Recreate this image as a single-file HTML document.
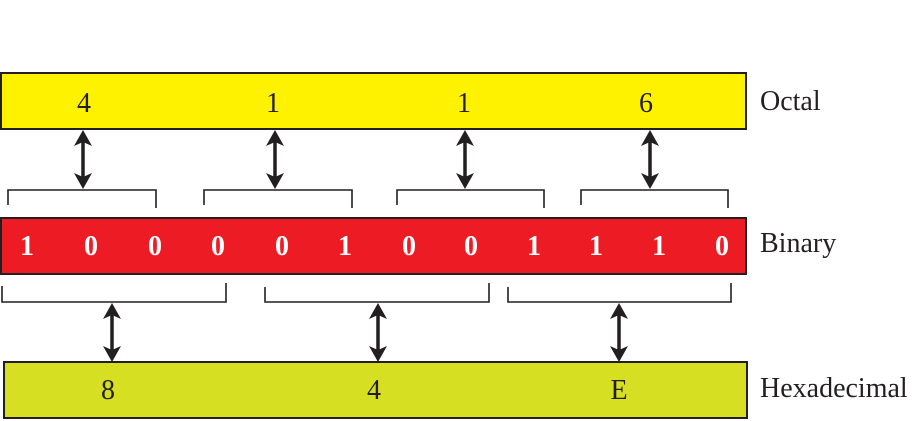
<!DOCTYPE html>
<html><head><meta charset="utf-8"><style>
html,body{margin:0;padding:0;background:#fff;}
svg{display:block;}
svg text{font-family:"Liberation Serif","Times New Roman",Times,"DejaVu Serif",serif;}
</style></head><body>
<svg width="920" height="421" viewBox="0 0 920 421" xmlns="http://www.w3.org/2000/svg">
<rect x="1" y="73" width="745" height="56" fill="#fff200" stroke="#231f20" stroke-width="2"/>
<rect x="1" y="218" width="745" height="56" fill="#ed1c24" stroke="#231f20" stroke-width="2"/>
<rect x="4" y="362" width="743" height="56" fill="#d7df23" stroke="#231f20" stroke-width="2"/>

<g font-size="28" fill="#231f20" text-anchor="middle">
<text x="84" y="112">4</text><text x="273" y="112">1</text><text x="464" y="112">1</text><text x="646" y="112">6</text>
<text x="108" y="399">8</text><text x="374" y="399">4</text><text x="619" y="399">E</text>
</g>
<g font-size="28" font-weight="bold" fill="#fff" text-anchor="middle">
<text x="27" y="255">1</text><text x="91" y="255">0</text><text x="155" y="255">0</text><text x="218" y="255">0</text>
<text x="282" y="255">0</text><text x="345" y="255">1</text><text x="409" y="255">0</text><text x="471" y="255">0</text>
<text x="534" y="255">1</text><text x="596" y="255">1</text><text x="659" y="255">1</text><text x="722" y="255">0</text>
</g>
<g font-size="28" fill="#231f20">
<text x="760" y="110">Octal</text>
<text x="760" y="252">Binary</text>
<text x="760" y="397">Hexadecimal</text>
</g>

<g fill="none" stroke="#231f20" stroke-width="1.6">
<path d="M8,205 V190 H156 V208"/>
<path d="M204,205 V190 H352 V208"/>
<path d="M397,205 V190 H544 V208"/>
<path d="M581,205 V190 H728 V208"/>
<path d="M2,286 V302 H226 V283"/>
<path d="M265,287 V302 H489 V283"/>
<path d="M508,287 V302 H731 V283"/>
</g>
<g stroke="#231f20" stroke-width="3.5">
<line x1="83" y1="140" x2="83" y2="178"/>
<line x1="275" y1="140" x2="275" y2="178"/>
<line x1="465" y1="140" x2="465" y2="178"/>
<line x1="650" y1="140" x2="650" y2="178"/>
<line x1="112" y1="313" x2="112" y2="351"/>
<line x1="378" y1="313" x2="378" y2="351"/>
<line x1="619" y1="313" x2="619" y2="351"/>
</g>
<g fill="#231f20">
<path id="u" d="M83,130 L92,146 L83,142 L74,146 Z"/>
<path d="M83,189 L92,173 L83,177 L74,173 Z"/>
<path d="M275,130 L284,146 L275,142 L266,146 Z"/><path d="M275,189 L284,173 L275,177 L266,173 Z"/>
<path d="M465,130 L474,146 L465,142 L456,146 Z"/><path d="M465,189 L474,173 L465,177 L456,173 Z"/>
<path d="M650,130 L659,146 L650,142 L641,146 Z"/><path d="M650,189 L659,173 L650,177 L641,173 Z"/>
<path d="M112,303 L121,319 L112,315 L103,319 Z"/><path d="M112,362 L121,346 L112,350 L103,346 Z"/>
<path d="M378,303 L387,319 L378,315 L369,319 Z"/><path d="M378,362 L387,346 L378,350 L369,346 Z"/>
<path d="M619,303 L628,319 L619,315 L610,319 Z"/><path d="M619,362 L628,346 L619,350 L610,346 Z"/>
</g>
</svg>
</body></html>
